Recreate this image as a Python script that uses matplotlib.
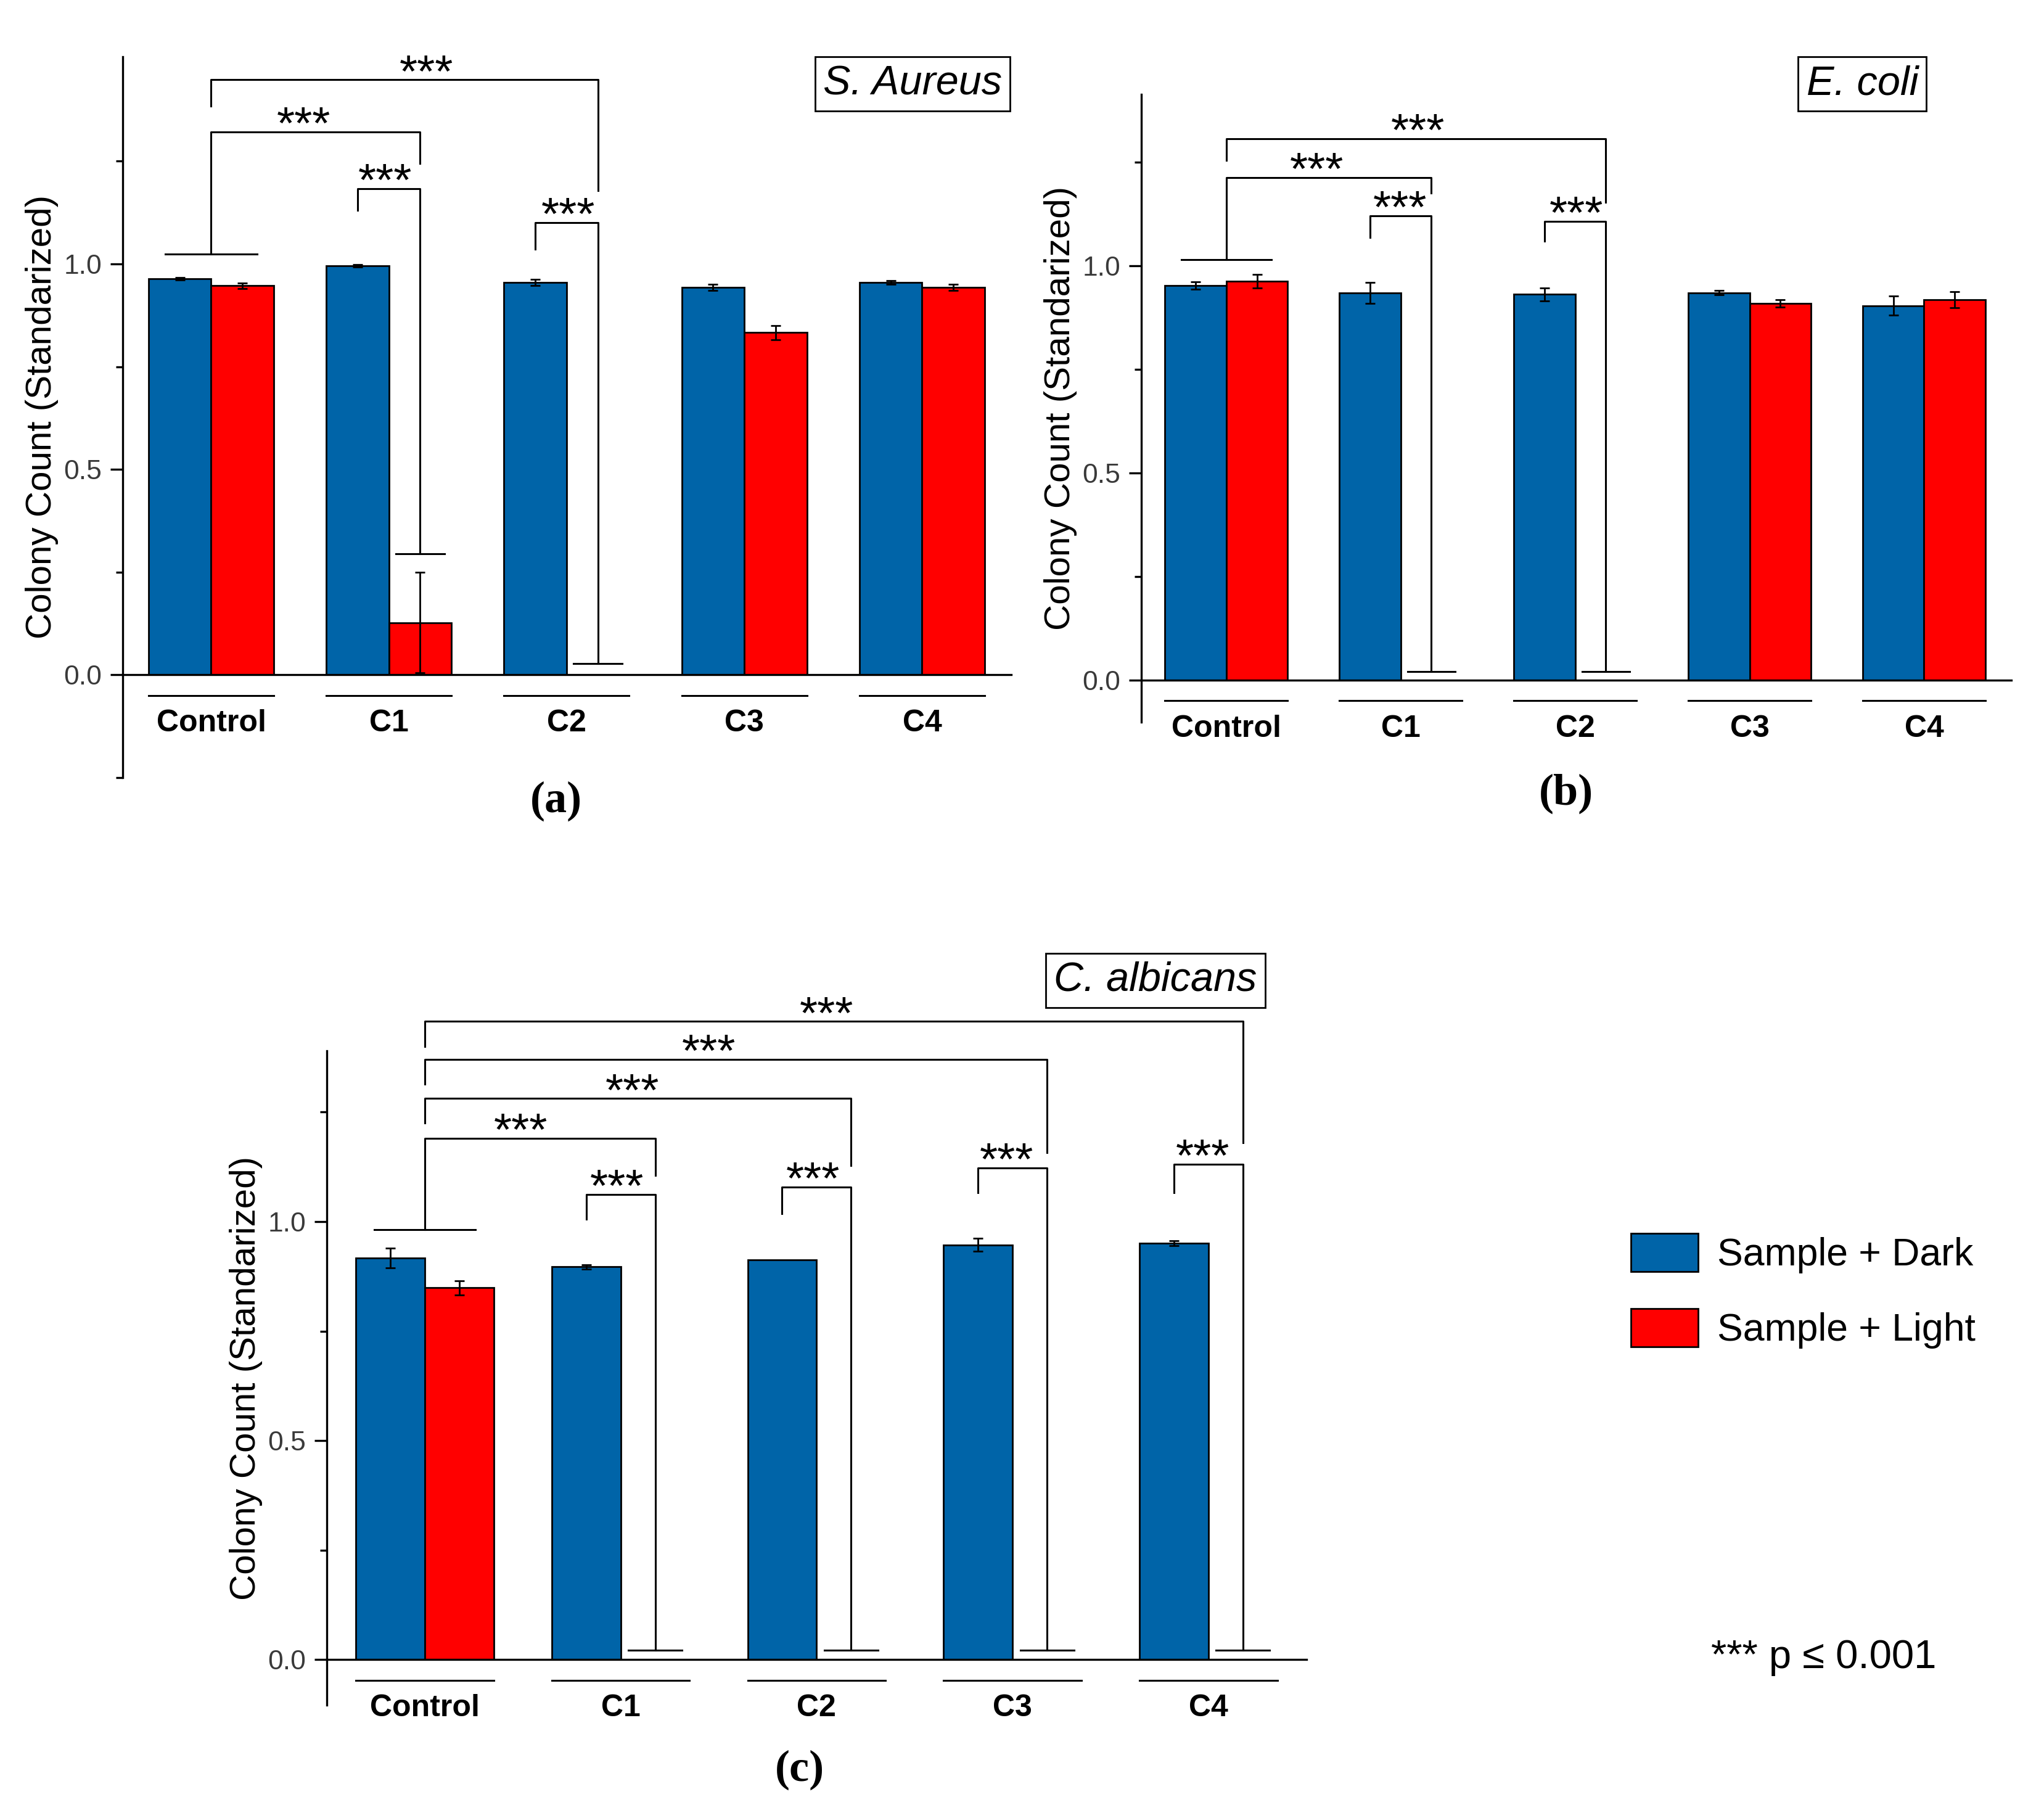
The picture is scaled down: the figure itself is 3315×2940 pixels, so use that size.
import numpy as np
import matplotlib
matplotlib.use("Agg")
import matplotlib.pyplot as plt
from matplotlib.transforms import offset_copy

plt.rcParams['font.family'] = ['Liberation Sans', 'DejaVu Sans']

categories = ["Control", "C1", "C2", "C3", "C4"]
series_labels = ["Sample + Dark", "Sample + Light"]

# S. aureus
sa_dark = [0.964, 0.996, 0.955, 0.943, 0.955]
sa_dark_err = [0.003, 0.003, 0.007, 0.008, 0.004]
sa_light = [0.947, 0.127, 0.0, 0.833, 0.943]
sa_light_err = [0.007, 0.122, 0.0, 0.017, 0.008]

# E. coli
ec_dark = [0.953, 0.935, 0.931, 0.935, 0.904]
ec_dark_err = [0.009, 0.025, 0.016, 0.005, 0.023]
ec_light = [0.963, 0.0, 0.0, 0.910, 0.918]
ec_light_err = [0.017, 0.0, 0.0, 0.009, 0.019]

# C. albicans
ca_dark = [0.917, 0.897, 0.913, 0.947, 0.951]
ca_dark_err = [0.023, 0.005, 0.0, 0.015, 0.006]
ca_light = [0.849, 0.0, 0.0, 0.0, 0.0]
ca_light_err = [0.016, 0.0, 0.0, 0.0, 0.0]

# significance brackets: (from, to, top level, left end, right end, star x)
# from/to = (group, 'c' centre | 'd' dark bar | 'l' light bar)
sa_brackets = [
    ((0, 'c'), (2, 'l'), 1.448, 1.384, 1.178, 1.21),
    ((0, 'c'), (1, 'l'), 1.321, 1.024, 1.245, 0.52),
    ((1, 'd'), (1, 'l'), 1.183, 1.130, 0.295, 0.98),
    ((2, 'd'), (2, 'l'), 1.100, 1.036, 0.027, 2.01),
]
sa_ctrl_line = 1.024
sa_caps = [((1, 'l'), 0.295), ((2, 'l'), 0.027)]

ec_brackets = [
    ((0, 'c'), (2, 'l'), 1.307, 1.255, 1.154, 1.10),
    ((0, 'c'), (1, 'l'), 1.213, 1.015, 1.176, 0.52),
    ((1, 'd'), (1, 'l'), 1.121, 1.069, 0.021, 0.995),
    ((2, 'd'), (2, 'l'), 1.108, 1.059, 0.021, 2.006),
]
ec_ctrl_line = 1.015
ec_caps = [((1, 'l'), 0.021), ((2, 'l'), 0.021)]

ca_brackets = [
    ((0, 'c'), (4, 'l'), 1.457, 1.400, 1.180, 2.05),
    ((0, 'c'), (3, 'l'), 1.370, 1.314, 1.158, 1.45),
    ((0, 'c'), (2, 'l'), 1.281, 1.225, 1.128, 1.06),
    ((0, 'c'), (1, 'l'), 1.190, 0.982, 1.106, 0.49),
    ((1, 'd'), (1, 'l'), 1.062, 1.005, 0.022, 0.98),
    ((2, 'd'), (2, 'l'), 1.079, 1.018, 0.022, 1.98),
    ((3, 'd'), (3, 'l'), 1.123, 1.066, 0.022, 2.97),
    ((4, 'd'), (4, 'l'), 1.131, 1.066, 0.022, 3.97),
]
ca_ctrl_line = 0.982
ca_caps = [((1, 'l'), 0.022), ((2, 'l'), 0.022), ((3, 'l'), 0.022), ((4, 'l'), 0.022)]

BLUE = '#0064A8'
RED = '#FF0000'
W = 0.352
LW = 1.1

fig = plt.figure(figsize=(16.58, 14.70), dpi=200)


def xpos(key):
    g, p = key
    return g + {'c': 0.0, 'd': -W / 2, 'l': W / 2}[p]


def draw_panel(rect, dark, dark_err, light, light_err, brackets, ctrl, caps,
               ylim, xlim, minors):
    ax = fig.add_axes(rect)
    x = np.arange(len(categories))
    dark, dark_err = np.array(dark), np.array(dark_err)
    light, light_err = np.array(light), np.array(light_err)
    b1 = ax.bar(x - W / 2, dark, W, color=BLUE, edgecolor='k', lw=1, zorder=2,
                label=series_labels[0])
    b2 = ax.bar(x + W / 2, light, W, color=RED, edgecolor='k', lw=1, zorder=2,
                label=series_labels[1])
    for xs, v, e in [(x - W / 2, dark, dark_err), (x + W / 2, light, light_err)]:
        m = e > 0
        ax.errorbar(xs[m], v[m], yerr=e[m], fmt='none', ecolor='k',
                    elinewidth=1, capsize=3, capthick=1, zorder=3)

    ax.set_xlim(*xlim)
    ax.set_ylim(*ylim)
    for s in ['top', 'right']:
        ax.spines[s].set_visible(False)
    ax.spines['bottom'].set_position(('data', 0))
    ax.spines['bottom'].set_linewidth(1.2)
    ax.spines['left'].set_linewidth(1.2)

    ax.set_xticks(x, categories, fontweight='bold', fontsize=18)
    ax.tick_params(axis='x', length=0, pad=20)
    ax.set_yticks([0.0, 0.5, 1.0], ['0.0', '0.5', '1.0'])
    ax.set_yticks(minors, minor=True)
    ax.tick_params(axis='y', which='major', direction='out', length=7.2,
                   width=1.2, pad=5, labelsize=16, labelcolor='#3a3a3a')
    ax.tick_params(axis='y', which='minor', direction='out', length=4, width=1.2)
    ax.set_ylabel('Colony Count (Standarized)', fontsize=21, labelpad=3)

    # group underlines below the zero line
    under = offset_copy(ax.transData, fig=fig, y=-12, units='points')
    for g in x:
        ax.plot([g - W, g + W], [0, 0], color='k', lw=LW, transform=under,
                clip_on=False)

    star_tr = offset_copy(ax.transData, fig=fig, y=-4, units='points')
    for a, b, top, ya, yb, sx in brackets:
        xa, xb = xpos(a), xpos(b)
        ax.plot([xa, xa, xb, xb], [ya, top, top, yb], color='k', lw=LW,
                clip_on=False, zorder=4)
        ax.text(sx, top, '***', transform=star_tr, ha='center', va='baseline',
                fontsize=27, clip_on=False)
    ax.plot([-0.258, 0.258], [ctrl, ctrl], color='k', lw=LW, clip_on=False)
    for key, y in caps:
        xc = xpos(key)
        ax.plot([xc - 0.137, xc + 0.137], [y, y], color='k', lw=LW,
                clip_on=False, zorder=4)
    return ax, b1, b2


draw_panel([0.0600, 0.5711, 0.4346, 0.3976], sa_dark, sa_dark_err, sa_light,
           sa_light_err, sa_brackets, sa_ctrl_line, sa_caps,
           (-0.247, 1.504), (-0.498, 4.502), [-0.25, 0.25, 0.75, 1.25])
draw_panel([0.5582, 0.6017, 0.4255, 0.3463], ec_dark, ec_dark_err, ec_light,
           ec_light_err, ec_brackets, ec_ctrl_line, ec_caps,
           (-0.101, 1.414), (-0.487, 4.5), [0.25, 0.75, 1.25])
ax_c, bd, bl = draw_panel([0.1598, 0.0595, 0.4792, 0.3609], ca_dark, ca_dark_err,
                          ca_light, ca_light_err, ca_brackets, ca_ctrl_line,
                          ca_caps, (-0.104, 1.39), (-0.5, 4.5), [0.25, 0.75, 1.25])

box = dict(boxstyle='square,pad=0.2', fc='white', ec='k', lw=1)
fig.text(0.4463, 0.9537, 'S. Aureus', ha='center', va='center', style='italic',
         fontsize=24, bbox=box)
fig.text(0.9108, 0.9537, 'E. coli', ha='center', va='center', style='italic',
         fontsize=24, bbox=box)
fig.text(0.5651, 0.4592, 'C. albicans', ha='center', va='center', style='italic',
         fontsize=24, bbox=box)

for px, py, lab in [(0.2720, 0.5582, '(a)'), (0.7660, 0.5622, '(b)'),
                    (0.3911, 0.0238, '(c)')]:
    fig.text(px, py, lab, ha='center', va='center', fontsize=26,
             family='Liberation Serif', fontweight='bold')

fig.legend(handles=[bd, bl], labels=series_labels, loc='upper left',
           bbox_to_anchor=(0.7976, 0.3197), frameon=False, fontsize=22.5,
           handlelength=1.75, handleheight=1.15, handletextpad=0.5,
           labelspacing=0.9, borderpad=0, borderaxespad=0)

fig.text(0.8369, 0.0799, '*** p \u2264 0.001', fontsize=23.5, va='baseline',
         ha='left')

fig.savefig('out.png', dpi=200)
